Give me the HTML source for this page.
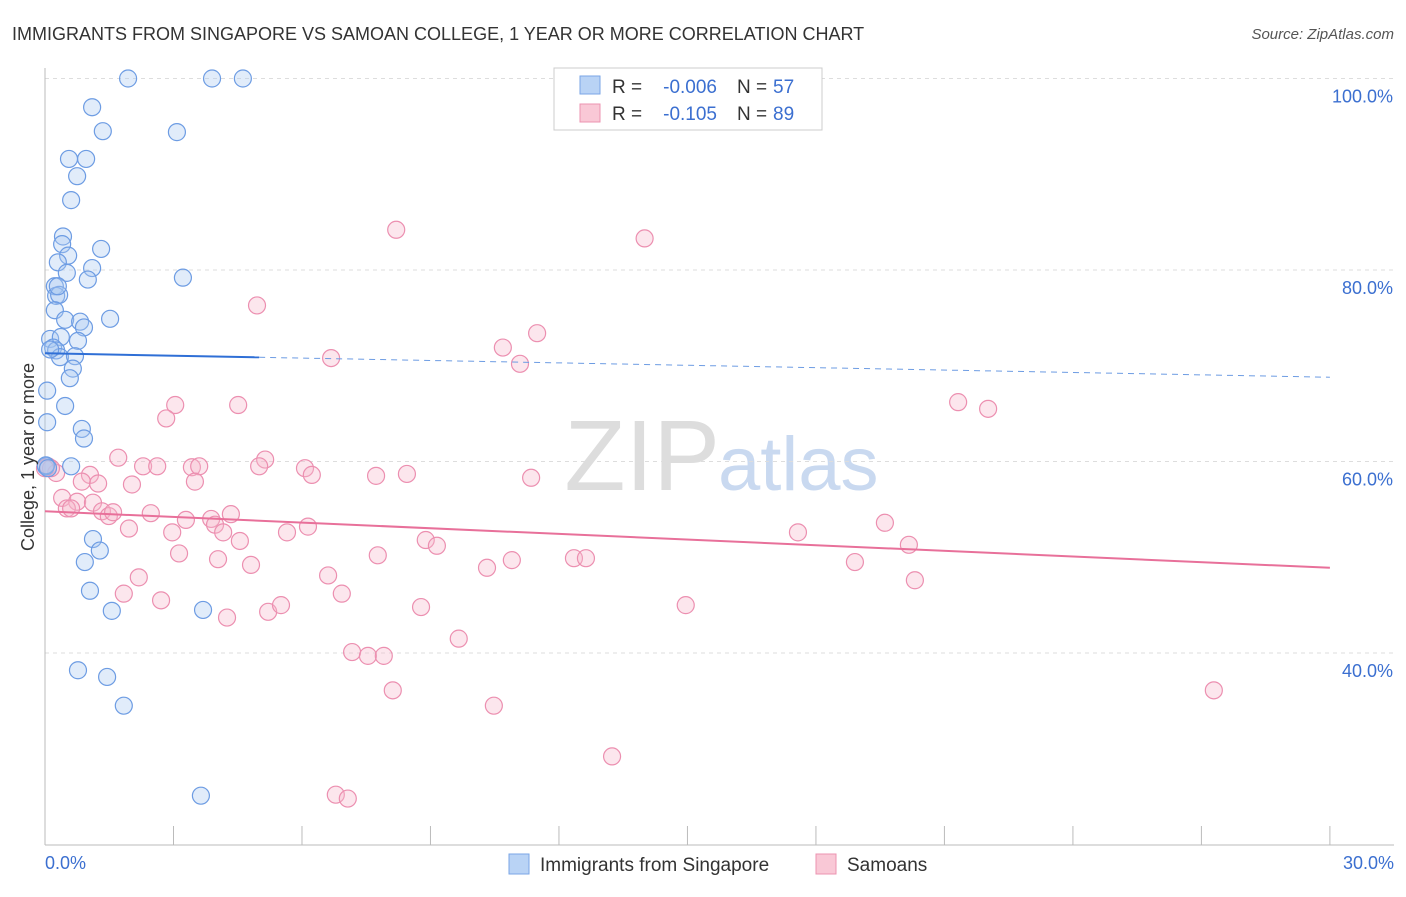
<!DOCTYPE html>
<html><head><meta charset="utf-8"><style>
body{margin:0;background:#fff;font-family:"Liberation Sans",sans-serif}
svg text{font-family:"Liberation Sans",sans-serif}
</style></head><body>
<svg id="chart" width="1406" height="892">
<text x="12" y="40" font-size="18" fill="#333">IMMIGRANTS FROM SINGAPORE VS SAMOAN COLLEGE, 1 YEAR OR MORE CORRELATION CHART</text>
<text x="1394" y="39" font-size="15" fill="#555" text-anchor="end" font-style="italic">Source: ZipAtlas.com</text>
<text x="720" y="490" font-size="100" fill="#ddd" text-anchor="end" font-family="Liberation Serif">ZIP</text>
<text x="718" y="490" font-size="76" fill="#c9d9f0">atlas</text>
<g id="grid"></g><g id="axes"></g><g id="marks"></g>
<text transform="translate(34,457) rotate(-90)" font-size="18" fill="#333" text-anchor="middle">College, 1 year or more</text>
<text x="45" y="869" font-size="18" fill="#3b6fd0">0.0%</text>
<text x="1394" y="869" font-size="18" fill="#3b6fd0" text-anchor="end">30.0%</text>
<g>
<rect x="554" y="68" width="268" height="62" fill="#fff" stroke="#ccc"/>
<rect x="580" y="76" width="20" height="18" fill="#b9d3f5" stroke="#7aa6e6"/>
<rect x="580" y="104" width="20" height="18" fill="#f9c8d6" stroke="#ec93b0"/>
<text x="612" y="93" font-size="19" fill="#333">R =</text>
<text x="717" y="93" font-size="19" fill="#3b6fd0" text-anchor="end">-0.006</text>
<text x="737" y="93" font-size="19" fill="#333">N =</text>
<text x="773" y="93" font-size="19" fill="#3b6fd0">57</text>
<text x="612" y="120" font-size="19" fill="#333">R =</text>
<text x="717" y="120" font-size="19" fill="#3b6fd0" text-anchor="end">-0.105</text>
<text x="737" y="120" font-size="19" fill="#333">N =</text>
<text x="773" y="120" font-size="19" fill="#3b6fd0">89</text>
</g>
<g>
<rect x="509" y="854" width="20" height="20" fill="#b9d3f5" stroke="#7aa6e6"/>
<text x="540" y="871" font-size="19" fill="#333">Immigrants from Singapore</text>
<rect x="816" y="854" width="20" height="20" fill="#f9c8d6" stroke="#ec93b0"/>
<text x="847" y="871" font-size="19" fill="#333">Samoans</text>
</g>
</svg>
<script>
const yTicks=[40,60,80,100];
const blueX=[1.94,3.9,4.62,1.1,1.35,3.08,0.56,0.96,0.75,0.61,0.42,0.4,1.31,0.54,0.3,1.1,1.0,3.22,0.51,0.23,0.26,0.33,0.23,0.47,0.82,1.52,0.91,0.12,0.37,0.77,0.19,0.26,0.35,0.7,0.65,0.58,0.47,0.05,0.05,0.86,0.91,0.61,0.02,1.12,1.28,0.93,1.05,1.56,3.69,0.77,1.45,1.84,3.64,0.12,0.02,0.07,0.3];
const blueY=[100,100,100,97,94.5,94.4,91.6,91.6,89.8,87.3,83.5,82.7,82.2,81.5,80.8,80.2,79,79.2,79.7,78.3,77.3,77.4,75.8,74.8,74.6,74.9,74,72.8,73,72.6,71.9,71.6,70.9,71,69.7,68.7,65.8,67.4,64.1,63.4,62.4,59.5,59.5,51.9,50.7,49.5,46.5,44.4,44.5,38.2,37.5,34.5,25.1,71.7,59.6,59.3,78.3];
const pinkX=[8.2,14,4.95,11.49,10.69,6.68,11.09,21.32,22.02,4.51,3.04,2.83,0.07,0.26,0.14,1.71,2.29,2.62,3.43,3.6,5.14,5,6.07,6.23,7.73,8.45,11.35,1.05,0.86,2.03,3.5,0.4,0.75,1.12,0.51,0.61,1.33,1.49,1.59,2.47,3.29,3.88,4.34,3.97,1.96,2.97,4.16,4.55,5.65,6.14,8.89,9.15,7.77,10.9,12.35,12.63,10.32,3.13,4.04,4.81,17.58,19.61,20.17,18.91,20.31,6.61,2.19,1.84,2.71,6.93,4.25,5.21,5.51,8.78,14.96,9.66,7.17,7.54,7.91,8.12,10.48,27.29,13.24,6.79,7.07,0,1.24];
const pinkY=[84.2,83.3,76.3,73.4,71.9,70.8,70.2,66.2,65.5,65.9,65.9,64.5,59.5,58.8,59.3,60.4,59.5,59.5,59.4,59.5,60.2,59.5,59.3,58.6,58.5,58.7,58.3,58.6,57.9,57.6,57.9,56.2,55.8,55.7,55.1,55.1,54.8,54.3,54.7,54.6,53.9,54,54.5,53.4,53,52.6,52.6,51.7,52.6,53.2,51.8,51.2,50.2,49.7,49.9,49.9,48.9,50.4,49.8,49.2,52.6,53.6,51.3,49.5,47.6,48.1,47.9,46.2,45.5,46.2,43.7,44.3,45,44.8,45,41.5,40.1,39.7,39.7,36.1,34.5,36.1,29.2,25.2,24.8,59.3,57.7];
const blueTrend=[71.3,68.8];
const pinkTrend=[54.8,48.9];
const X=v=>45+v*42.83, Y=v=>78.5+(100-v)*9.575;
const ns='http://www.w3.org/2000/svg';
function mk(t,a,p){const e=document.createElementNS(ns,t);for(const k in a)e.setAttribute(k,a[k]);p.appendChild(e);return e;}
const grid=document.getElementById('grid'),axes=document.getElementById('axes'),marks=document.getElementById('marks');
yTicks.forEach(t=>{
 const l=mk('line',{x1:45,x2:1394,y1:Y(t),y2:Y(t),stroke:'#ddd','stroke-dasharray':'4,4'},grid);
 
 
 const tx=mk('text',{x:1393,y:Y(t)+24,'font-size':18,fill:'#3b6fd0','text-anchor':'end'},grid);
 tx.textContent=t.toFixed(1)+'%';
 
 
});
const ya=mk('line',{x1:45,x2:45,y1:68,y2:845,stroke:'#bbb'},axes);


const xa=mk('line',{x1:45,x2:1394,y1:845,y2:845,stroke:'#bbb'},axes);


for(let i=0;i<=10;i++){const tk=mk('line',{x1:X(i*3),x2:X(i*3),y1:826,y2:845,stroke:'#bbb'},axes);
 
 }
function dots(xs,ys,fill,stroke,name){xs.forEach((x,i)=>{const c=mk('circle',{cx:X(x),cy:Y(ys[i]),r:8.5,fill:fill,'fill-opacity':0.35,stroke:stroke,'stroke-width':1.2},marks);
 
 });}
dots(pinkX,pinkY,'#f7b6ca','#ec8fb0','samoan-point');
dots(blueX,blueY,'#a9c8f2','#6d9ce3','singapore-point');
const bs=mk('line',{x1:X(0),y1:Y(blueTrend[0]),x2:X(5),y2:Y(blueTrend[0]+(blueTrend[1]-blueTrend[0])*5/30),stroke:'#2f6fd6','stroke-width':2},marks);


const bd=mk('line',{x1:X(5),y1:Y(blueTrend[0]+(blueTrend[1]-blueTrend[0])*5/30),x2:X(30),y2:Y(blueTrend[1]),stroke:'#6d9ce3','stroke-width':1,'stroke-dasharray':'6,5'},marks);


const pt=mk('line',{x1:X(0),y1:Y(pinkTrend[0]),x2:X(30),y2:Y(pinkTrend[1]),stroke:'#e8709a','stroke-width':2},marks);


</script>
</body></html>
